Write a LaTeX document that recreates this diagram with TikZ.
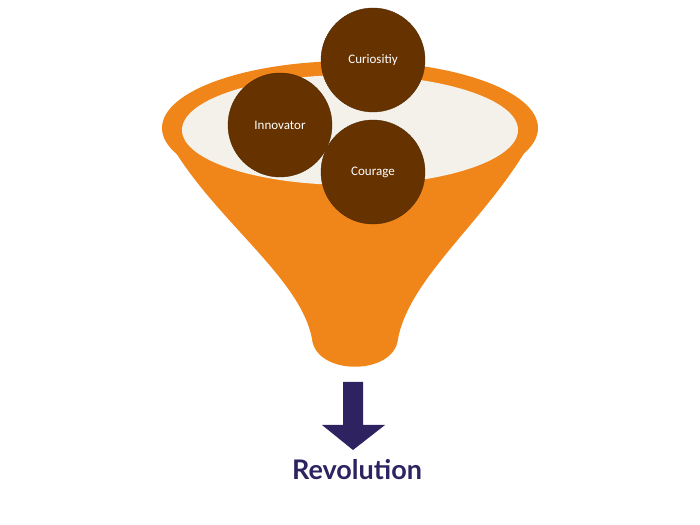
\documentclass[tikz,border=0pt]{standalone}
\usepackage{fontspec}
\setmainfont{Carlito}
\newfontfamily\revfont{Lato}
\definecolor{funnelorange}{HTML}{F08519}
\definecolor{rimcream}{HTML}{F3F1EA}
\definecolor{ballbrown}{HTML}{663300}
\definecolor{arrowpurple}{HTML}{2E2360}
\tikzset{
  ball/.style={circle,fill=ballbrown,draw=ballbrown!80!black,minimum size=104pt,
    text=white,font=\fontsize{13}{15}\selectfont,inner sep=0pt},
}
\begin{document}
\begin{tikzpicture}[x=1pt,y=1pt]
\useasboundingbox (0,0) rectangle (700,524);
% funnel body
\fill[funnelorange] (163,394) .. controls (205,310) and (300,250) .. (312,185)
  .. controls (316,148) and (394,148) .. (398,185)
  .. controls (410,250) and (495,310) .. (537,394) -- cycle;
\fill[funnelorange] (350,396) ellipse [x radius=188, y radius=67];
\fill[rimcream] (350,394) ellipse [x radius=168, y radius=55];
% balls
\node[ball] (curiosity) at (373,464) {Curiositiy};
\node[ball] (innovator) at (280,399) {Innovator};
\node[ball] (courage) at (373,352) {Courage};
% output arrow
\coordinate (spout) at (353,142);
\node[font=\revfont\bfseries\fontsize{27}{30}\selectfont,text=arrowpurple] (result) at (357,54) {Revolution};
\fill[arrowpurple] ([xshift=-10]spout) -- ++(0,-43) -- ++(-21,0) -- (353,74)
  -- (385,99) -- ++(-22,0) -- ++(0,43) -- cycle;
\end{tikzpicture}
\end{document}
